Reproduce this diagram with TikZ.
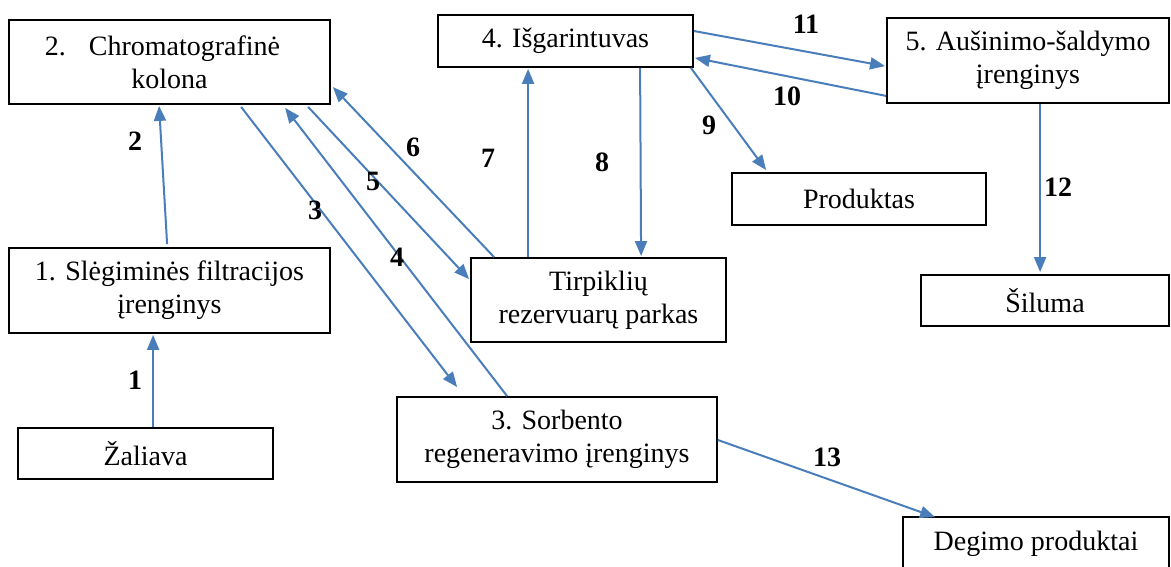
\documentclass[tikz,border=0pt]{standalone}
\usepackage{fontspec}
\setmainfont{Liberation Serif}
\usetikzlibrary{arrows.meta}
\definecolor{flow}{RGB}{74,126,187}
\tikzset{
  box/.style={draw=black, line width=1.8pt, rectangle, inner sep=0pt, align=center,
    font=\fontsize{28}{33}\selectfont},
  flowline/.style={draw=flow, line width=2pt, -{Triangle[length=15pt,width=12pt]}},
  num/.style={font=\fontsize{28}{33}\selectfont\bfseries, inner sep=0pt}
}
\begin{document}
\begin{tikzpicture}[x=1pt,y=-1pt]
\useasboundingbox (0,0) rectangle (1171,566);
% boxes
\node[box, minimum width=321pt, minimum height=84pt] (n2) at (169.5,62) {2.\hspace{23pt}Chromatografinė\hspace{14pt}\mbox{}\\kolona};
\node[box, minimum width=255pt, minimum height=52pt] (n4) at (565.5,41) {4. Išgarintuvas};
\node[box, minimum width=282pt, minimum height=85pt] (n5) at (1028,60.5) {5. Aušinimo-šaldymo\\įrenginys};
\node[box, minimum width=254pt, minimum height=52pt] (prod) at (859,199) {Produktas};
\node[box, minimum width=321pt, minimum height=85pt] (n1) at (169.5,290.5) {1. Slėgiminės filtracijos\\įrenginys};
\node[box, minimum width=255pt, minimum height=84pt] (tirp) at (598.5,300) {Tirpiklių\\rezervuarų parkas};
\node[box, minimum width=248pt, minimum height=51pt] (sil) at (1045,300.5) {Šiluma};
\node[box, minimum width=255pt, minimum height=51pt] (zal) at (145.5,453.5) {Žaliava};
\node[box, minimum width=320pt, minimum height=85pt] (n3) at (557,439.5) {3. Sorbento\\regeneravimo įrenginys};
\node[box, minimum width=266pt, minimum height=53pt] (deg) at (1036,543.5) {Degimo produktai};
% connectors
\draw[flowline] ([xshift=136pt]zal.north west) -- ([xshift=145pt,yshift=-1pt]n1.south west);
\draw[flowline] ([xshift=159pt,yshift=3pt]n1.north west) -- ([xshift=151pt,yshift=-1pt]n2.south west);
\draw[flowline] ([xshift=233pt,yshift=-2pt]n2.south west) -- ([xshift=61pt,yshift=9pt]n3.north west);
\draw[flowline] ([xshift=111pt]n3.north west) -- ([xshift=277pt,yshift=-3pt]n2.south west);
\draw[flowline] ([xshift=300pt,yshift=-2pt]n2.south west) -- ([xshift=-1pt,yshift=-22pt]tirp.north west);
\draw[flowline] ([xshift=24pt]tirp.north west) -- ([xshift=2pt,yshift=-68pt]n2.north east);
\draw[flowline] ([xshift=58pt]tirp.north west) -- ([xshift=91pt,yshift=-1pt]n4.south west);
\draw[flowline] ([xshift=203pt]n4.south west) -- ([xshift=171pt,yshift=1pt]tirp.north west);
\draw[flowline] ([xshift=-3pt]n4.south east) -- ([xshift=35pt,yshift=2pt]prod.north west);
\draw[flowline] ([yshift=10pt]n4.east) -- ([yshift=-49pt,xshift=-1pt]n5.north west);
\draw[flowline] ([yshift=8pt]n5.south west) -- ([xshift=1pt,yshift=10pt]n4.south east);
\draw[flowline] ([xshift=154pt]n5.south west) -- ([xshift=120pt,yshift=2pt]sil.north west);
\draw[flowline] ([yshift=-0.5pt]n3.east) -- ([xshift=33pt,yshift=-1pt]deg.north west);
% labels
\node[num] (l1) at (135,380) {1};
\node[num] (l2) at (135,141) {2};
\node[num] (l3) at (315,210) {3};
\node[num] (l4) at (397,257) {4};
\node[num] (l5) at (373,181) {5};
\node[num] (l6) at (413,147) {6};
\node[num] (l7) at (488,158) {7};
\node[num] (l8) at (602,162) {8};
\node[num] (l9) at (709,125) {9};
\node[num] (l10) at (787,96) {10};
\node[num] (l11) at (806,24) {11};
\node[num] (l12) at (1058,187) {12};
\node[num] (l13) at (827,457) {13};
\end{tikzpicture}
\end{document}
